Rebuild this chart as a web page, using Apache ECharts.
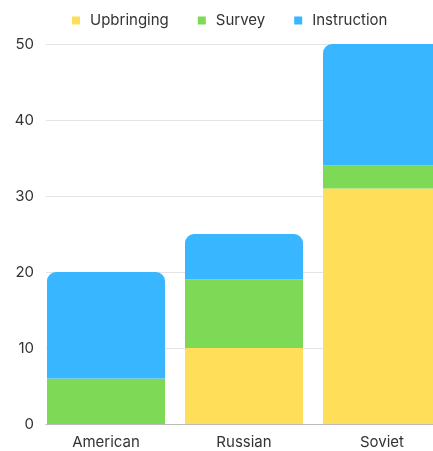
<!DOCTYPE html>
<html><head><meta charset="utf-8">
<script src="https://cdn.jsdelivr.net/npm/echarts@6/dist/echarts.min.js"></script>
<style>html,body{margin:0;padding:0;background:#fff}#c{width:433px;height:451px}</style>
</head><body><div id="c"></div>
<script>
const categories = ['American', 'Russian', 'Soviet'];
const upbringing = [0, 10, 31];
const survey = [6, 9, 3];
const instruction = [14, 6, 16];
const yTicks = [0, 10, 20, 30, 40, 50];

const chart = echarts.init(document.getElementById('c'), null, {renderer: 'canvas'});
const font = 'Inter, "Noto Sans", sans-serif';
const colors = ['#FFDE59', '#7ED957', '#38B6FF'];
const yMin = yTicks[0], yMax = yTicks[yTicks.length - 1];
chart.setOption({
  animation: false,
  color: colors,
  textStyle: {fontFamily: font},
  legend: {
    top: 8, left: 67, icon: 'rect', itemWidth: 8, itemHeight: 8, itemGap: 29, itemStyle: {borderWidth: 0},
    textStyle: {fontSize: 15, color: '#333', fontFamily: font, padding: [0,0,0,5]},
    data: ['Upbringing', 'Survey', 'Instruction']
  },
  grid: [
    {left: 46, right: 0, top: 44, bottom: 27, containLabel: false, outerBoundsMode: 'none'},
    {left: 37, width: 414, top: 44, bottom: 27, containLabel: false, outerBoundsMode: 'none'}
  ],
  xAxis: [
    {gridIndex: 0, type: 'category', data: categories,
     axisLine: {lineStyle: {color: '#bbb'}}, axisTick: {show: false}, axisLabel: {show: false}},
    {gridIndex: 1, type: 'category', data: categories,
     axisLine: {show: false}, axisTick: {show: false},
     axisLabel: {fontSize: 15, color: '#333', margin: 11, fontFamily: font}}
  ],
  yAxis: [
    {gridIndex: 0, type: 'value', min: yMin, max: yMax, interval: 10,
     axisLine: {show: false}, axisTick: {show: false},
     splitLine: {lineStyle: {color: '#e3e3e3'}},
     axisLabel: {fontSize: 15, color: '#333', margin: 12, fontFamily: font}},
    {gridIndex: 1, type: 'value', min: yMin, max: yMax, interval: 10,
     axisLine: {show: false}, axisTick: {show: false}, splitLine: {show: false}, axisLabel: {show: false}}
  ],
  series: [
    {name: 'Upbringing', type: 'bar', stack: 's', data: upbringing, barCategoryGap: '14.5%',
     xAxisIndex: 1, yAxisIndex: 1, itemStyle: {borderRadius: 0}},
    {name: 'Survey', type: 'bar', stack: 's', data: survey, xAxisIndex: 1, yAxisIndex: 1,
     itemStyle: {borderRadius: 0}},
    {name: 'Instruction', type: 'bar', stack: 's', data: instruction, xAxisIndex: 1, yAxisIndex: 1,
     itemStyle: {borderRadius: [9,9,0,0]}}
  ]
});
</script></body></html>
